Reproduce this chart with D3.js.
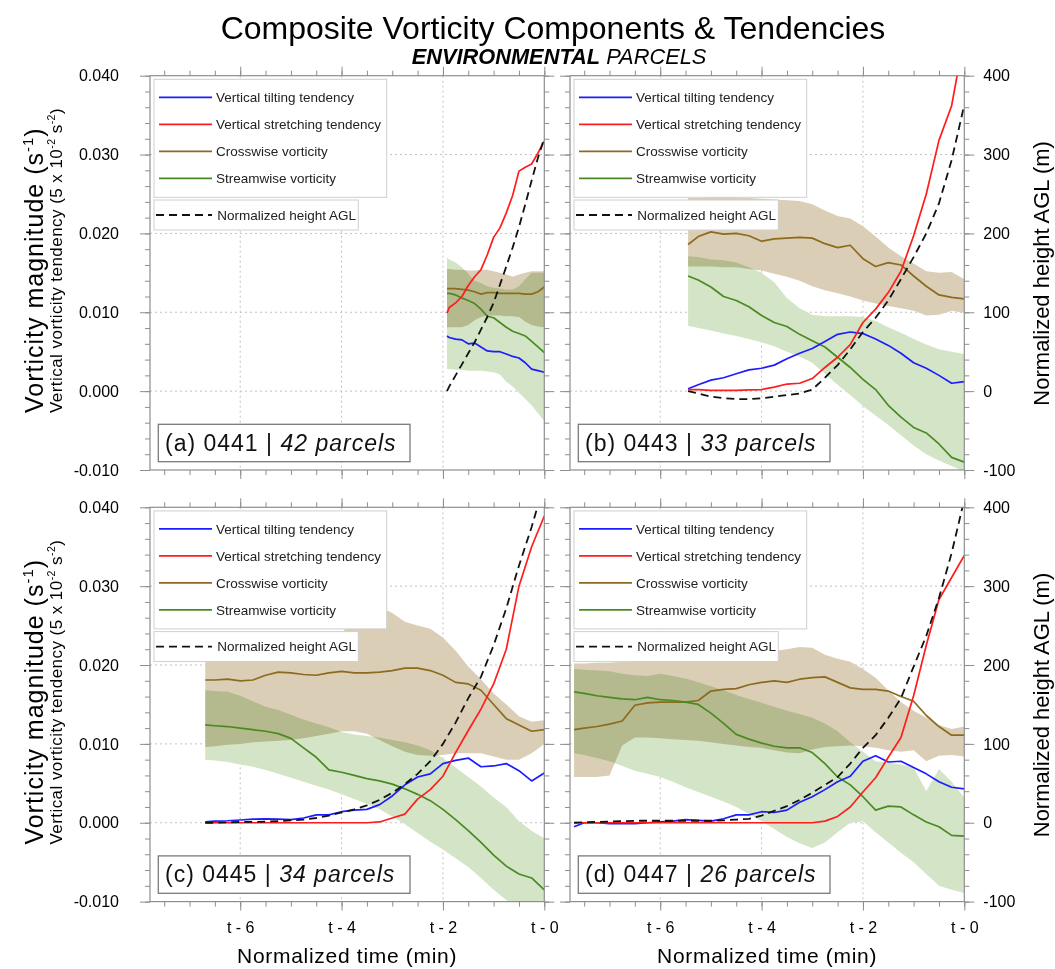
<!DOCTYPE html>
<html>
<head>
<meta charset="utf-8">
<script src="https://cdn.jsdelivr.net/npm/d3@7"></script>
<style>
  body { margin: 0; background: #fff; }
  svg text { font-family: "Liberation Sans", Arial, Helvetica, sans-serif; }
</style>
</head>
<body>
<svg id="chart" width="1055" height="969"></svg>
<script>
// ---------------- composite series (vorticity in s^-1, height in m) ----------------
// (a) 0441
const timeA = [-1.92,-1.875,-1.75,-1.625,-1.5,-1.375,-1.25,-1.125,-1,-0.875,-0.75,-0.625,-0.5,-0.375,-0.25,-0.125,0];
const tiltA = [0.0070,0.0068,0.0066,0.0065,0.0060,0.0061,0.0056,0.0051,0.0050,0.0050,0.0047,0.0044,0.0042,0.0036,0.0028,0.0026,0.0024];
const stretchA = [0.0099,0.0106,0.0112,0.0120,0.0134,0.0145,0.0154,0.0173,0.0195,0.0207,0.0226,0.0248,0.0279,0.0284,0.0288,0.0302,0.0317];
const crossA = [0.0130,0.0130,0.0130,0.0129,0.0128,0.0126,0.0123,0.0125,0.0125,0.0124,0.0124,0.0124,0.0124,0.0123,0.0123,0.0126,0.0132];
const crossHiA = [0.0155,0.0155,0.0154,0.0154,0.0153,0.0153,0.0154,0.0154,0.0152,0.0150,0.0148,0.0145,0.0148,0.0150,0.0152,0.0152,0.0152];
const crossLoA = [0.0081,0.0081,0.0081,0.0081,0.0084,0.0090,0.0094,0.0096,0.0096,0.0096,0.0095,0.0095,0.0094,0.0088,0.0084,0.0082,0.0081];
const streamA = [0.0124,0.0124,0.0122,0.0118,0.0115,0.0111,0.0104,0.0095,0.0093,0.0087,0.0081,0.0076,0.0073,0.0070,0.0063,0.0056,0.0049];
const streamHiA = [0.0169,0.0167,0.0163,0.0157,0.0149,0.0140,0.0137,0.0133,0.0131,0.0130,0.0129,0.0129,0.0133,0.0142,0.0150,0.0150,0.0150];
const streamLoA = [0.0028,0.0028,0.0027,0.0027,0.0026,0.0026,0.0026,0.0025,0.0024,0.0021,0.0012,0.0006,-0.0002,-0.0010,-0.0018,-0.0028,-0.0038];
const heightA = [0,6,20,34,48,62,78,94,112,135,158,182,208,237,267,296,321];

// (b) 0443
const timeB = [-5.45,-5.25,-5,-4.75,-4.5,-4.25,-4,-3.75,-3.5,-3.25,-3,-2.75,-2.5,-2.25,-2,-1.75,-1.5,-1.25,-1,-0.75,-0.5,-0.25,0];
const tiltB = [0.0003,0.0008,0.0014,0.0017,0.0022,0.0027,0.0029,0.0033,0.0041,0.0048,0.0054,0.0063,0.0072,0.0075,0.0073,0.0066,0.0058,0.0048,0.0036,0.0029,0.0020,0.0010,0.0012];
const stretchB = [0.0002,0.0002,0.0001,0.0001,0.0001,0.00015,0.0002,0.0005,0.0009,0.0010,0.0016,0.0030,0.0043,0.0059,0.0087,0.0104,0.0125,0.0152,0.0197,0.0250,0.0318,0.0362,0.0450];
const crossB = [0.0186,0.0196,0.0202,0.0199,0.0200,0.0197,0.0190,0.0193,0.0194,0.0195,0.0194,0.0187,0.0182,0.0185,0.0168,0.0158,0.0163,0.0160,0.0146,0.0133,0.0122,0.0119,0.0117];
const crossHiB = [0.0245,0.0245,0.0246,0.0246,0.0246,0.0245,0.0244,0.0243,0.0242,0.0241,0.0237,0.0229,0.0222,0.0219,0.0209,0.0196,0.0182,0.0171,0.0162,0.0152,0.0150,0.0151,0.0142];
const crossLoB = [0.0158,0.0158,0.0158,0.0157,0.0157,0.0155,0.0153,0.0149,0.0145,0.0140,0.0133,0.0128,0.0124,0.0120,0.0115,0.0111,0.0108,0.0105,0.0102,0.0096,0.0097,0.0102,0.0099];
const streamB = [0.0146,0.0141,0.0132,0.0120,0.0115,0.0107,0.0096,0.0087,0.0082,0.0072,0.0064,0.0056,0.0043,0.0030,0.0015,0.0002,-0.0018,-0.0033,-0.0046,-0.0053,-0.0067,-0.0084,-0.0090];
const streamHiB = [0.0171,0.0170,0.0167,0.0166,0.0163,0.0157,0.0150,0.0138,0.0118,0.0105,0.0097,0.0095,0.0095,0.0095,0.0094,0.0089,0.0081,0.0074,0.0066,0.0059,0.0053,0.0050,0.0047];
const streamLoB = [0.0083,0.0080,0.0077,0.0073,0.0070,0.0066,0.0062,0.0057,0.0050,0.0044,0.0036,0.0022,0.0008,-0.0005,-0.0019,-0.0031,-0.0043,-0.0056,-0.0069,-0.0080,-0.0088,-0.0095,-0.0102];
const heightB = [0,-3,-7,-9,-10,-10,-9,-7,-5,-3,2,17,33,53,75,93,115,142,170,200,238,293,363];

// (c) 0445
const timeC = [-6.69,-6.5,-6.25,-6,-5.75,-5.5,-5.25,-5,-4.75,-4.5,-4.25,-4,-3.75,-3.5,-3.25,-3,-2.75,-2.5,-2.25,-2,-1.75,-1.5,-1.25,-1,-0.75,-0.5,-0.25,0];
const tiltC = [0.0001,0.0002,0.00025,0.00035,0.00045,0.0005,0.00045,0.0004,0.0006,0.0010,0.0010,0.0014,0.0016,0.0017,0.0023,0.0034,0.0048,0.0058,0.0062,0.0075,0.0079,0.0082,0.0071,0.0072,0.0075,0.0066,0.0053,0.0063];
const stretchC = [0,0,0,0,0,0,0,0,0,0,0,0,0,0,0.0001,0.0006,0.0011,0.0030,0.0042,0.0059,0.0089,0.0117,0.0144,0.0176,0.0220,0.0300,0.0350,0.0389];
const crossC = [0.0181,0.0181,0.0182,0.0180,0.0181,0.0187,0.0191,0.0190,0.0188,0.0187,0.0190,0.0192,0.0190,0.0190,0.0191,0.0193,0.0196,0.0196,0.0193,0.0187,0.0178,0.0176,0.0168,0.0150,0.0132,0.0124,0.0116,0.0118];
const crossHiC = [0.0240,0.0240,0.0240,0.0240,0.0240,0.0240,0.0240,0.0240,0.0240,0.0240,0.0240,0.0240,0.0260,0.0270,0.0274,0.0266,0.0255,0.0250,0.0246,0.0235,0.0218,0.0198,0.0182,0.0164,0.0150,0.0135,0.0128,0.0130];
const crossLoC = [0.0096,0.0097,0.0099,0.0100,0.0102,0.0103,0.0104,0.0105,0.0107,0.0110,0.0113,0.0116,0.0116,0.0113,0.0105,0.0097,0.0090,0.0086,0.0085,0.0086,0.0088,0.0088,0.0088,0.0084,0.0080,0.0080,0.0088,0.0100];
const streamC = [0.0124,0.0123,0.0122,0.0120,0.0118,0.0116,0.0113,0.0107,0.0095,0.0083,0.0067,0.0064,0.0060,0.0056,0.0053,0.0049,0.0043,0.0036,0.0028,0.0017,0.0004,-0.0010,-0.0025,-0.0041,-0.0055,-0.0065,-0.0070,-0.0085];
const streamHiC = [0.0168,0.0167,0.0166,0.0161,0.0154,0.0147,0.0143,0.0137,0.0131,0.0126,0.0121,0.0115,0.0112,0.0110,0.0108,0.0105,0.0102,0.0098,0.0092,0.0082,0.0070,0.0058,0.0046,0.0032,0.0020,0.0002,-0.0010,-0.0020];
const streamLoC = [0.0080,0.0079,0.0077,0.0074,0.0071,0.0067,0.0062,0.0057,0.0052,0.0047,0.0042,0.0036,0.0030,0.0024,0.0017,0.0008,-0.0002,-0.0013,-0.0024,-0.0034,-0.0045,-0.0056,-0.0070,-0.0085,-0.0098,-0.0108,-0.0115,-0.0120];
const heightC = [0,0,0.5,1,1,1.5,2,3,4,6,9,13,17,22,29,38,49,62,78,100,127,158,185,225,272,326,375,430];

// (d) 0447
const timeD = [-7.7,-7.5,-7.25,-7,-6.75,-6.5,-6.25,-6,-5.75,-5.5,-5.25,-5,-4.75,-4.5,-4.25,-4,-3.75,-3.5,-3.25,-3,-2.75,-2.5,-2.25,-2,-1.75,-1.5,-1.25,-1,-0.75,-0.5,-0.25,0];
const tiltD = [-0.0005,0,0,-0.0001,-0.0001,-0.0001,0,0.0001,0.0002,0.0004,0.0003,0.0002,0.0005,0.0010,0.0010,0.0014,0.0013,0.0016,0.0026,0.0033,0.0042,0.0052,0.0059,0.0078,0.0085,0.0077,0.0078,0.0070,0.0062,0.0052,0.0045,0.0043];
const stretchD = [0,0,0,0,0,0,0,0,0,0,0,0,0,0,0,0,0,0,0,0.0000,0.0002,0.0008,0.0020,0.0039,0.0057,0.0083,0.0108,0.0161,0.0225,0.0283,0.0311,0.0339];
const crossD = [0.0118,0.0120,0.0122,0.0125,0.0129,0.0149,0.0152,0.0153,0.0153,0.0153,0.0155,0.0167,0.0169,0.0170,0.0175,0.0178,0.0180,0.0178,0.0182,0.0184,0.0185,0.0178,0.0171,0.0169,0.0169,0.0167,0.0160,0.0154,0.0136,0.0122,0.0111,0.0111];
const crossHiD = [0.0202,0.0202,0.0203,0.0203,0.0204,0.0205,0.0206,0.0207,0.0208,0.0209,0.0210,0.0211,0.0212,0.0213,0.0214,0.0215,0.0218,0.0220,0.0223,0.0222,0.0213,0.0208,0.0204,0.0195,0.0184,0.0168,0.0153,0.0142,0.0133,0.0124,0.0119,0.0122];
const crossLoD = [0.0058,0.0058,0.0058,0.0060,0.0098,0.0108,0.0108,0.0107,0.0106,0.0105,0.0104,0.0102,0.0100,0.0098,0.0096,0.0095,0.0092,0.0089,0.0088,0.0093,0.0096,0.0097,0.0098,0.0097,0.0095,0.0092,0.0090,0.0092,0.0078,0.0085,0.0086,0.0084];
const streamD = [0.0166,0.0164,0.0161,0.0159,0.0157,0.0156,0.0159,0.0156,0.0155,0.0153,0.0150,0.0139,0.0126,0.0112,0.0106,0.0101,0.0097,0.0095,0.0095,0.0089,0.0075,0.0058,0.0048,0.0033,0.0016,0.0021,0.0020,0.0010,0.0001,-0.0005,-0.0016,-0.0017];
const streamHiD = [0.0195,0.0194,0.0193,0.0192,0.0189,0.0187,0.0186,0.0189,0.0186,0.0183,0.0178,0.0173,0.0168,0.0162,0.0157,0.0152,0.0147,0.0142,0.0138,0.0133,0.0126,0.0116,0.0102,0.0090,0.0078,0.0076,0.0074,0.0070,0.0040,0.0068,0.0052,0.0032];
const streamLoD = [0.0088,0.0086,0.0082,0.0078,0.0072,0.0066,0.0062,0.0058,0.0052,0.0045,0.0039,0.0033,0.0027,0.0020,0.0011,0.0002,-0.0008,-0.0018,-0.0026,-0.0032,-0.0025,-0.0012,0.0000,0.0002,-0.0012,-0.0025,-0.0038,-0.0050,-0.0065,-0.0080,-0.0085,-0.0089];
const heightD = [0,0.5,1,1.5,2,2.5,2.5,2.5,2.5,2.5,2.5,2.5,3,4,5,9,15,21,29,38,48,58,75,95,111,133,158,198,237,285,342,410];

// panel annotations
const panelTags = ["(a)", "(b)", "(c)", "(d)"];
const panelRuns = ["0441", "0443", "0445", "0447"];
const panelCounts = ["42 parcels", "33 parcels", "34 parcels", "26 parcels"];

// axis ticks
const xTicks = [-6, -4, -2, 0];
const xTickLabels = ["t - 6", "t - 4", "t - 2", "t - 0"];
const xMinorTicks = [-7.5,-7,-6.5,-6,-5.5,-5,-4.5,-4,-3.5,-3,-2.5,-2,-1.5,-1,-0.5,0];
const yTicks = [-0.01, 0, 0.01, 0.02, 0.03, 0.04];
const yTickLabels = ["-0.010", "0.000", "0.010", "0.020", "0.030", "0.040"];
const yMinorTicks = d3.range(0, 26).map(i => -0.01 + i * 0.002);
const hTicks = [-100, 0, 100, 200, 300, 400];
const hTickLabels = ["-100", "0", "100", "200", "300", "400"];

// legend entries
const legendNames = ["Vertical tilting tendency", "Vertical stretching tendency", "Crosswise vorticity", "Streamwise vorticity"];
const heightName = "Normalized height AGL";

// ---------------- styling ----------------
const C = {
  tilt: "#1c1cff", stretch: "#ff1c1c", cross: "#8c6a1e", stream: "#4a8a22",
  crossBand: "#dacfb6", streamBand: "#d3e5c6",
  frame: "#8e8e8e", grid: "#c2c2c2", legendEdge: "#cfcfcf"
};
const legendColors = [C.tilt, C.stretch, C.cross, C.stream];

const svg = d3.select("#chart");
const W = 394.3, H = 394.3;
const origins = [[150, 75.7], [570, 75.7], [150, 507.3], [570, 507.3]];

const x = d3.scaleLinear().domain([-7.78, 0]).range([0, W]);
const y = d3.scaleLinear().domain([-0.01, 0.04]).range([H, 0]);
const yH = d3.scaleLinear().domain([-100, 400]).range([H, 0]);

const sets = [
  [timeA, tiltA, stretchA, crossA, crossHiA, crossLoA, streamA, streamHiA, streamLoA, heightA],
  [timeB, tiltB, stretchB, crossB, crossHiB, crossLoB, streamB, streamHiB, streamLoB, heightB],
  [timeC, tiltC, stretchC, crossC, crossHiC, crossLoC, streamC, streamHiC, streamLoC, heightC],
  [timeD, tiltD, stretchD, crossD, crossHiD, crossLoD, streamD, streamHiD, streamLoD, heightD]
];

function rows(s) {
  return s[0].map((t, i) => ({
    t, tilt: s[1][i], stretch: s[2][i], cross: s[3][i], crossHi: s[4][i], crossLo: s[5][i],
    stream: s[6][i], streamHi: s[7][i], streamLo: s[8][i], h: s[9][i]
  }));
}

function styleAxis(g, size) {
  g.select(".domain").remove();
  g.selectAll(".tick line").attr("stroke", C.frame).attr("stroke-width", 1);
  g.selectAll(".tick text").attr("fill", "#000").attr("font-size", size || 16)
    .attr("font-family", "Liberation Sans, Arial, sans-serif");
  g.attr("font-family", null).attr("font-size", null);
}

sets.forEach((s, i) => {
  const col = i % 2, row = Math.floor(i / 2);
  const data = rows(s);
  const g = svg.append("g").attr("transform", `translate(${origins[i][0]},${origins[i][1]})`);

  g.append("clipPath").attr("id", `clip${i}`)
    .append("rect").attr("width", W).attr("height", H);

  // dotted grid
  const grid = g.append("g");
  grid.selectAll("line.v").data([-6, -4, -2]).join("line")
    .attr("x1", d => x(d)).attr("x2", d => x(d)).attr("y1", 0).attr("y2", H)
    .attr("stroke", C.grid).attr("stroke-dasharray", "2,3");
  grid.selectAll("line.h").data([0, 0.01, 0.02, 0.03]).join("line")
    .attr("x1", 0).attr("x2", W).attr("y1", d => y(d)).attr("y2", d => y(d))
    .attr("stroke", C.grid).attr("stroke-dasharray", "2,3");

  const plot = g.append("g").attr("clip-path", `url(#clip${i})`);

  // spread bands
  const band = (hi, lo) => d3.area().x(d => x(d.t)).y0(d => y(d[lo])).y1(d => y(d[hi]));
  plot.append("path").datum(data).attr("d", band("streamHi", "streamLo"))
    .attr("fill", C.streamBand).style("mix-blend-mode", "multiply");
  plot.append("path").datum(data).attr("d", band("crossHi", "crossLo"))
    .attr("fill", C.crossBand).style("mix-blend-mode", "multiply");

  // mean lines
  const line = key => d3.line().x(d => x(d.t)).y(d => y(d[key]));
  [["cross", C.cross], ["stream", C.stream], ["tilt", C.tilt], ["stretch", C.stretch]].forEach(([k, c]) => {
    plot.append("path").datum(data).attr("d", line(k))
      .attr("fill", "none").attr("stroke", c).attr("stroke-width", 1.7).attr("stroke-linejoin", "round");
  });
  plot.append("path").datum(data).attr("d", d3.line().x(d => x(d.t)).y(d => yH(d.h)))
    .attr("fill", "none").attr("stroke", "#111").attr("stroke-width", 1.8).attr("stroke-dasharray", "8,5");

  // frame
  g.append("rect").attr("width", W).attr("height", H).attr("fill", "none")
    .attr("stroke", C.frame).attr("stroke-width", 1.2);

  // axes on all four sides
  const none = () => "";
  const aL = g.append("g").call(d3.axisLeft(y).tickValues(yTicks).tickSize(10).tickPadding(21)
    .tickFormat(col === 0 ? (d, k) => yTickLabels[k] : none));
  styleAxis(aL);
  styleAxis(g.append("g").call(d3.axisLeft(y).tickValues(yMinorTicks).tickSize(5).tickFormat(none)));

  const aR = g.append("g").attr("transform", `translate(${W},0)`)
    .call(d3.axisRight(yH).tickValues(hTicks).tickSize(10).tickPadding(9)
      .tickFormat(col === 1 ? (d, k) => hTickLabels[k] : none));
  styleAxis(aR);
  styleAxis(g.append("g").attr("transform", `translate(${W},0)`)
    .call(d3.axisRight(y).tickValues(yMinorTicks).tickSize(5).tickFormat(none)));

  styleAxis(g.append("g").call(d3.axisTop(x).tickValues(xTicks).tickSize(9).tickFormat(none)));
  styleAxis(g.append("g").call(d3.axisTop(x).tickValues(xMinorTicks).tickSize(5).tickFormat(none)));

  const aB = g.append("g").attr("transform", `translate(0,${H})`)
    .call(d3.axisBottom(x).tickValues(xTicks).tickSize(9).tickPadding(11)
      .tickFormat(row === 1 ? (d, k) => xTickLabels[k] : none));
  styleAxis(aB);
  styleAxis(g.append("g").attr("transform", `translate(0,${H})`)
    .call(d3.axisBottom(x).tickValues(xMinorTicks).tickSize(5).tickFormat(none)));

  // legend
  const lg = g.append("g");
  lg.append("rect").attr("x", 4).attr("y", 3.6).attr("width", 232.7).attr("height", 118)
    .attr("fill", "#fff").attr("stroke", C.legendEdge);
  legendNames.forEach((name, k) => {
    const ly = 21.6 + 27 * k;
    lg.append("line").attr("x1", 9).attr("x2", 62).attr("y1", ly).attr("y2", ly)
      .attr("stroke", legendColors[k]).attr("stroke-width", 1.7);
    lg.append("text").attr("x", 66).attr("y", ly).attr("dy", "0.35em")
      .attr("font-size", 13.5).attr("fill", "#222").text(name);
  });
  lg.append("rect").attr("x", 4).attr("y", 124.3).attr("width", 204.3).attr("height", 30)
    .attr("fill", "#fff").attr("stroke", C.legendEdge);
  lg.append("line").attr("x1", 6).attr("x2", 62).attr("y1", 139.3).attr("y2", 139.3)
    .attr("stroke", "#111").attr("stroke-width", 1.8).attr("stroke-dasharray", "8,5");
  lg.append("text").attr("x", 67.3).attr("y", 139.3).attr("dy", "0.35em")
    .attr("font-size", 13.5).attr("fill", "#222").text(heightName);

  // panel label
  g.append("rect").attr("x", 8.3).attr("y", H - 45.7).attr("width", 251.7).attr("height", 37.4)
    .attr("fill", "#fff").attr("stroke", "#7a7a7a").attr("stroke-width", 1.3);
  const lab = g.append("text").attr("x", 15).attr("y", H - 19.3).attr("font-size", 23)
    .attr("letter-spacing", 1).attr("fill", "#111");
  lab.append("tspan").text(`${panelTags[i]} ${panelRuns[i]} | `);
  lab.append("tspan").attr("font-style", "italic").text(panelCounts[i]);
});

// titles
svg.append("text").attr("x", 553).attr("y", 39).attr("text-anchor", "middle")
  .attr("font-size", 32).attr("fill", "#000").text("Composite Vorticity Components & Tendencies");
const sub = svg.append("text").attr("x", 559).attr("y", 64).attr("text-anchor", "middle")
  .attr("font-size", 21.8).attr("font-style", "italic").attr("fill", "#000");
sub.append("tspan").attr("font-weight", "bold").text("ENVIRONMENTAL");
sub.append("tspan").text(" PARCELS");

// left axis titles
[413, 844.6].forEach(yy => {
  const t1 = svg.append("text").attr("transform", `translate(43,${yy}) rotate(-90)`)
    .attr("font-size", 25).attr("letter-spacing", 1).attr("fill", "#000");
  t1.append("tspan").text("Vorticity magnitude (s");
  t1.append("tspan").attr("font-size", 15).attr("dy", -10).text("-1");
  t1.append("tspan").attr("dy", 10).text(")");

  const t2 = svg.append("text").attr("transform", `translate(62,${yy}) rotate(-90)`)
    .attr("font-size", 17).attr("letter-spacing", 0.45).attr("fill", "#000");
  t2.append("tspan").text("Vertical vorticity tendency (5 x 10");
  t2.append("tspan").attr("font-size", 10.5).attr("dy", -7).text("-2");
  t2.append("tspan").attr("dy", 7).text(" s");
  t2.append("tspan").attr("font-size", 10.5).attr("dy", -7).text("-2");
  t2.append("tspan").attr("dy", 7).text(")");
});

// right axis titles
[273.4, 705].forEach(yy => {
  svg.append("text").attr("transform", `translate(1049,${yy}) rotate(-90)`)
    .attr("text-anchor", "middle").attr("font-size", 22).attr("fill", "#000")
    .text("Normalized height AGL (m)");
});

// bottom axis titles
[150 + W / 2, 570 + W / 2].forEach(xx => {
  svg.append("text").attr("x", xx).attr("y", 963).attr("text-anchor", "middle")
    .attr("font-size", 21).attr("letter-spacing", 0.7).attr("fill", "#000").text("Normalized time (min)");
});
</script>
</body>
</html>
